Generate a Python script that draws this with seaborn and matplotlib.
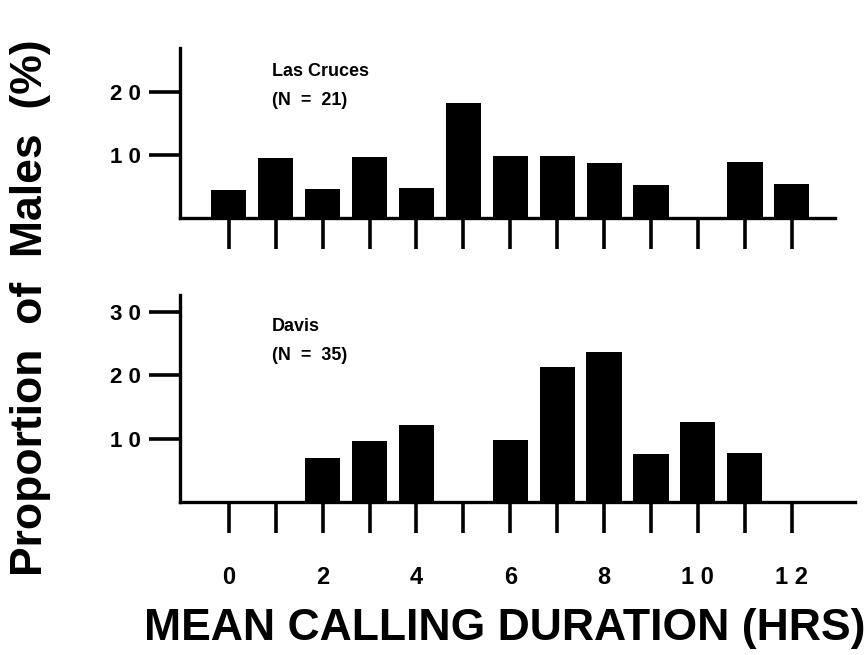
import matplotlib
matplotlib.use('Agg')
import matplotlib.pyplot as plt
import seaborn as sns

# values (percent of males per hour class)
hours = list(range(13))
las_cruces = [4.5, 9.6, 4.6, 9.7, 4.8, 18.3, 9.9, 9.9, 8.7, 5.3, 0, 8.9, 5.4]
davis = [0, 0, 6.9, 9.6, 12.2, 0, 9.8, 21.2, 23.7, 7.6, 12.6, 7.7, 0]
x_labels = ['0', '', '2', '', '4', '', '6', '', '8', '', '1 0', '', '1 2']

sns.set_style('white')
plt.rcParams['font.family'] = ['Liberation Sans', 'DejaVu Sans']
plt.rcParams['text.color'] = 'black'
plt.rcParams['xtick.color'] = 'black'
plt.rcParams['ytick.color'] = 'black'

fig = plt.figure(figsize=(8.68, 6.55), dpi=100)
ax1 = fig.add_axes([0.2074, 0.6672, 0.7546, 0.2595])
ax2 = fig.add_axes([0.2074, 0.2336, 0.7776, 0.3160])


def panel(ax, vals, ytop, yticks, ylabels, xmax):
    sns.barplot(x=hours, y=vals, ax=ax, color='black', width=0.75,
                native_scale=True, saturation=1, errorbar=None, linewidth=0)
    ax.set_xlim(-1.04, xmax)
    ax.set_ylim(0, ytop)
    sns.despine(ax=ax)
    for s in ['left', 'bottom']:
        ax.spines[s].set_linewidth(2.4)
        ax.spines[s].set_color('black')
    ax.set_xticks(hours)
    ax.set_yticks(yticks)
    ax.set_yticklabels(ylabels, fontsize=16, fontweight='bold')
    ax.tick_params(axis='both', direction='out', length=22, width=2.6,
                   color='black', labelcolor='black', bottom=True, left=True)
    ax.tick_params(axis='y', pad=6)
    ax.set_xlabel('')
    ax.set_ylabel('')


panel(ax1, las_cruces, 27, [10, 20], ['1 0', '2 0'], 12.92)
ax1.set_xticklabels([''] * 13)
ax1.text(0.92, 23.2, 'Las Cruces', fontsize=13, fontweight='bold', va='center')
ax1.text(0.92, 18.7, '(N  =  21)', fontsize=13, fontweight='bold', va='center')

panel(ax2, davis, 32.6, [10, 20, 30], ['1 0', '2 0', '3 0'], 13.35)
ax2.set_xticklabels(x_labels, fontsize=17, fontweight='bold')
ax2.tick_params(axis='x', pad=24)
ax2.text(0.92, 27.6, 'Davis', fontsize=13, fontweight='bold', va='center')
ax2.text(0.92, 23.1, '(N  =  35)', fontsize=13, fontweight='bold', va='center')

fig.text(0.035, 0.53, 'Proportion  of  Males  (%)', rotation=90, fontsize=32,
         fontweight='bold', ha='center', va='center')
fig.text(0.581, 0.041, 'MEAN CALLING DURATION (HRS)', fontsize=32,
         fontweight='bold', ha='center', va='center')

fig.savefig('out.png', dpi=100)
